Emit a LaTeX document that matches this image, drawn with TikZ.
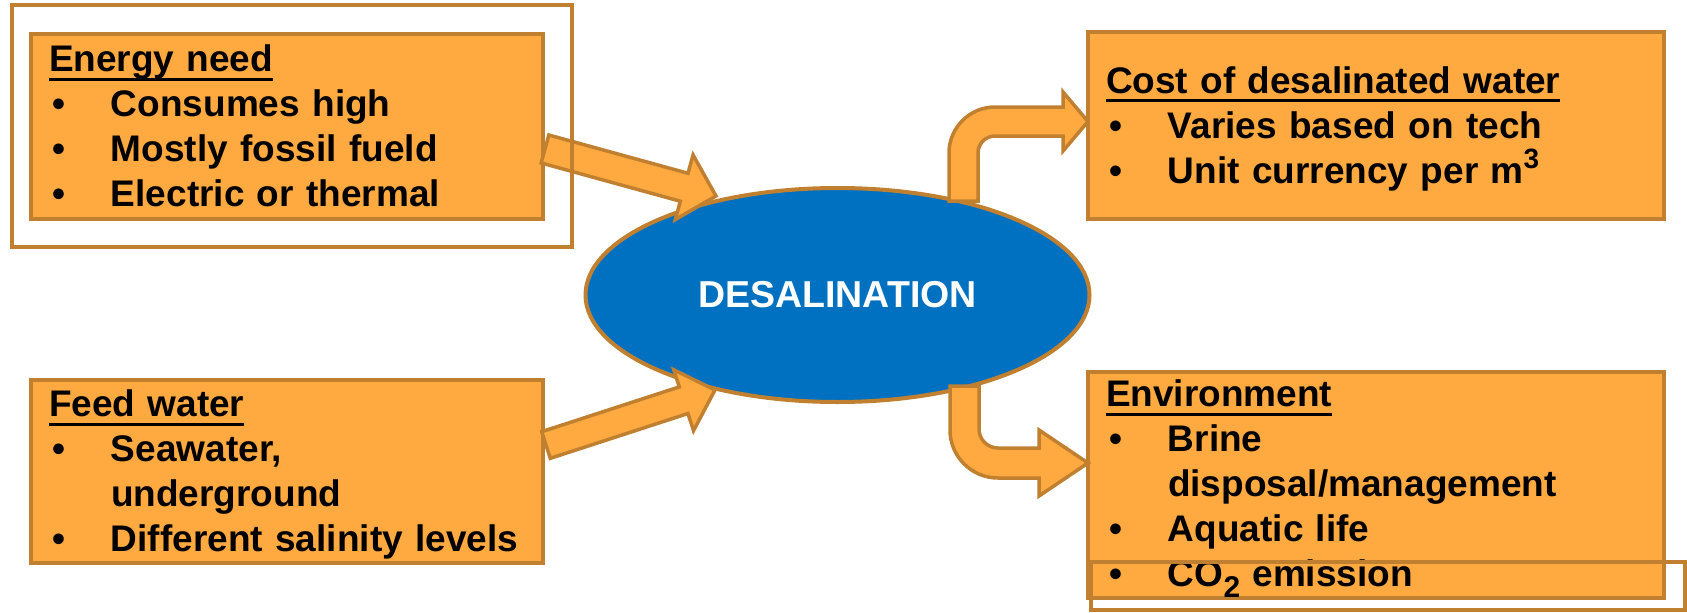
\documentclass[tikz,border=0pt]{standalone}
\usepackage{fontspec}
\setmainfont{Liberation Sans}
\usetikzlibrary{shapes.geometric,calc}

\definecolor{boxfill}{RGB}{255,170,64}
\definecolor{boxline}{RGB}{192,128,48}
\definecolor{desalblue}{RGB}{0,112,192}

% heading with underline, bullet, last line strut
\newcommand\hd[1]{\rule{0pt}{35pt}\setbox0\hbox{#1}\rlap{\rule[-9pt]{\wd0}{3pt}}\box0}
\newcommand\bul{\makebox[62pt][l]{\hspace{3pt}\textbullet}}
\newcommand\lastln{\rule[-10pt]{0pt}{10pt}}
% block arrow: tail, tip, shaft half width, head half width, head length
\newcommand\blockarrow[5]{%
  \coordinate (hb) at ($(#2)!#5!(#1)$);
  \draw[arrowbody] ($(#1)!#3!90:(#2)$) -- ($(hb)!#3!-90:(#1)$)
    -- ($(hb)!#4!-90:(#1)$) -- (#2) -- ($(hb)!#4!90:(#1)$)
    -- ($(hb)!#3!90:(#1)$) -- ($(#1)!#3!-90:(#2)$) -- cycle;}

\begin{document}
\begin{tikzpicture}[x=1pt,y=-1pt]
\tikzstyle{infobox}=[rectangle,draw=boxline,fill=boxfill,line width=4pt,
  inner xsep=18pt,inner ysep=0pt,align=left,font=\fontsize{37}{45}\selectfont\bfseries]
\tikzstyle{arrowbody}=[draw=boxline,fill=boxfill,line width=3.5pt]
\tikzstyle{frame}=[rectangle,draw=boxline,line width=4pt,inner sep=0pt]

\useasboundingbox (0,0) rectangle (1687,613);

\node[infobox,text width=476pt,minimum height=185pt] (energy) at (287,126.5)
  {\hd{Energy need}\\
   \bul Consumes high\\
   \bul Mostly fossil fueld\\
   \bul Electric or thermal\lastln};

\node[infobox,text width=476pt,minimum height=183pt] (feed) at (287,471.5)
  {\hd{Feed water}\\
   \bul Seawater,\\
   \hspace*{62pt}underground\\
   \bul Different salinity levels\lastln};

\node[infobox,text width=540pt,minimum height=187pt] (cost) at (1376,125.5)
  {\hd{Cost of desalinated water}\\
   \bul Varies based on tech\\
   \bul Unit currency per m\raisebox{15pt}{\fontsize{28}{28}\selectfont 3}\lastln};

\node[infobox,text width=540pt,minimum height=211pt] (env) at (1376,484.5)
  {\hd{Environment}\\
   \bul Brine\\
   \hspace*{62pt}disposal/management\\
   \bul Aquatic life\\
   \bul CO\raisebox{-11pt}{\fontsize{30}{30}\selectfont 2} emission\lastln};

\node[ellipse,draw=boxline,fill=desalblue,line width=4pt,inner sep=0pt,
  minimum width=504pt,minimum height=214pt,text=white,
  font=\fontsize{37.5}{42}\selectfont\bfseries] (desal) at (837.5,295) {DESALINATION};

% straight arrows into the ellipse
\coordinate (eTail) at (545,149);
\coordinate (eTip) at (716,196);
\coordinate (fTail) at (546,445);
\coordinate (fTip) at (715,390);
\blockarrow{eTail}{eTip}{14.5pt}{33.5pt}{33pt}
\blockarrow{fTail}{fTip}{14pt}{32pt}{33pt}

% bent arrows out of the ellipse
\draw[arrowbody] (949,201) -- (949,153) arc[start angle=180,end angle=270,radius=46]
  -- (1063,107) -- (1063,92) -- (1088,121.5) -- (1063,151) -- (1063,136)
  -- (995,136) arc[start angle=270,end angle=180,radius=17] -- (978,201) -- cycle;
\draw[arrowbody] (950,386) -- (950,430) arc[start angle=180,end angle=90,radius=48]
  -- (1039,478) -- (1039,496) -- (1088,463) -- (1039,430) -- (1039,448)
  -- (998,448) arc[start angle=90,end angle=180,radius=19] -- (979,386) -- cycle;

% empty frames
\node[frame,minimum width=560pt,minimum height=242pt] (topframe) at (292,126) {};
\node[frame,minimum width=594pt,minimum height=48pt] (botframe) at (1388,586) {};

\end{tikzpicture}
\end{document}
